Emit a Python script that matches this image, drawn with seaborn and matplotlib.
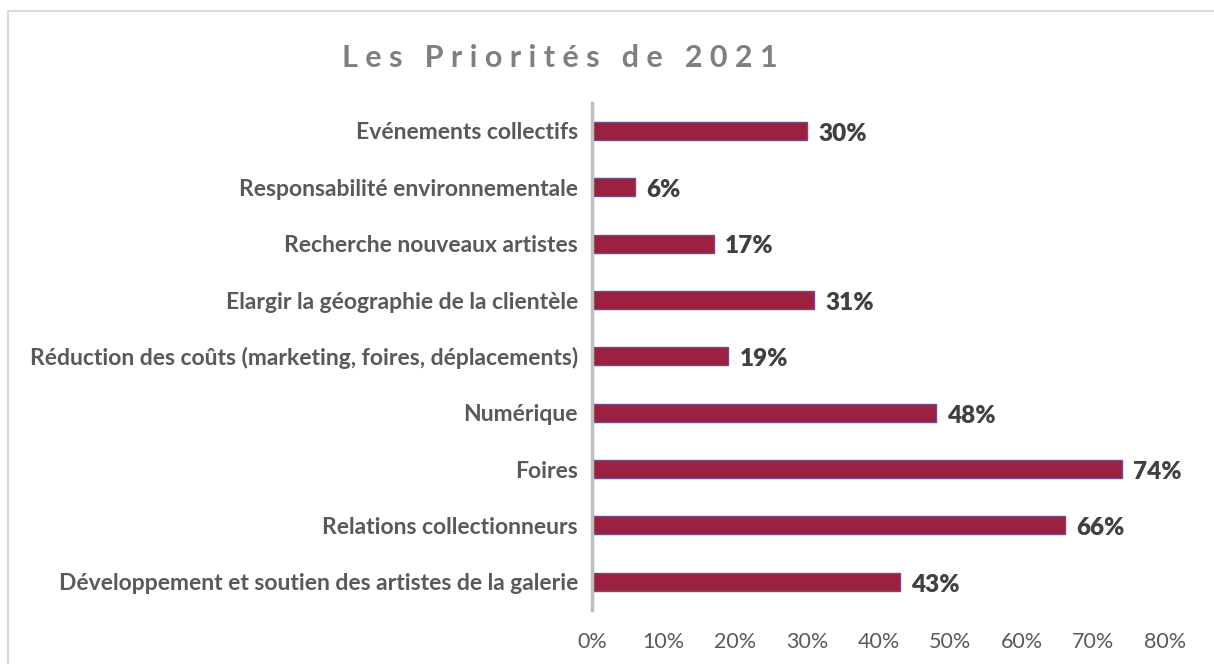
import pandas as pd
import matplotlib.pyplot as plt
import seaborn as sns
from matplotlib.lines import Line2D

# Chart data
categories = [
    "Evénements collectifs",
    "Responsabilité environnementale",
    "Recherche nouveaux artistes",
    "Elargir la géographie de la clientèle",
    "Réduction des coûts (marketing, foires, déplacements)",
    "Numérique",
    "Foires",
    "Relations collectionneurs",
    "Développement et soutien des artistes de la galerie",
]
values = [30, 6, 17, 31, 19, 48, 74, 66, 43]
x_ticks = [0, 10, 20, 30, 40, 50, 60, 70, 80]

df = pd.DataFrame({"Priorité": categories, "Pourcentage": values})

sns.set_style("white")
plt.rcParams["font.family"] = ["Lato", "DejaVu Sans"]

fig = plt.figure(figsize=(12.14, 6.64), dpi=100)
ax = fig.add_axes([0.4876, 0.0813, 0.4720, 0.7640])

sns.barplot(data=df, x="Pourcentage", y="Priorité", orient="h",
            color="#9c2140", width=0.32, saturation=1,
            edgecolor="#6b4c8c", linewidth=1.0, ax=ax)

for p, v in zip(ax.patches, values):
    ax.text(p.get_width() + 1.6, p.get_y() + p.get_height() / 2 + 0.05,
            f"{v}%", va="center", ha="left", fontsize=17.5, fontweight="heavy",
            color="#404040")

ax.set_xlim(0, 80)
ax.set_ylim(8.5, -0.5)
ax.set_xticks(x_ticks)
ax.set_xticklabels([f"{t}%" for t in x_ticks], fontsize=15.5, color="#595959")
ax.tick_params(axis="x", length=0, pad=16)
ax.tick_params(axis="y", length=0, pad=10)
for lbl in ax.get_yticklabels():
    lbl.set_fontsize(16.5)
    lbl.set_fontweight("bold")
    lbl.set_color("#595959")
ax.set_xlabel("")
ax.set_ylabel("")

for s in ["top", "right", "bottom"]:
    ax.spines[s].set_visible(False)
ax.spines["left"].set_color("#bfbfbf")
ax.spines["left"].set_linewidth(2.5)

fig.text(0.461, 0.913, "L e s   P r i o r i t é s   d e   2 0 2 1", ha="center", va="center",
         fontsize=22, fontweight="bold", color="#7f7f7f")

# outer chart border (top and left visible in the crop)
fig.add_artist(Line2D([8 / 1214, 1.0], [1 - 11 / 664, 1 - 11 / 664],
                      transform=fig.transFigure, color="#d9d9d9", linewidth=1.5))
fig.add_artist(Line2D([8 / 1214, 8 / 1214], [0.0, 1 - 11 / 664],
                      transform=fig.transFigure, color="#d9d9d9", linewidth=1.5))

fig.savefig("out.png", dpi=100)
